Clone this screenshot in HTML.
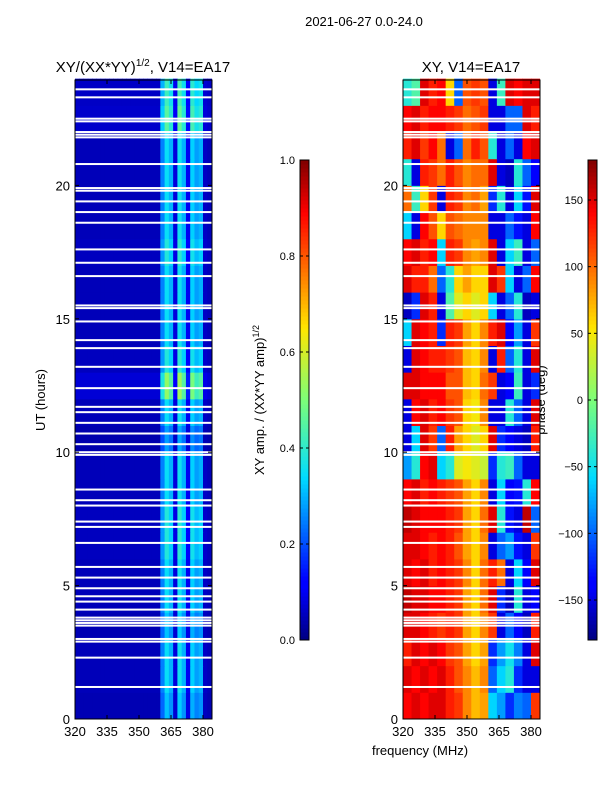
<!DOCTYPE html>
<html><head><meta charset="utf-8"><style>
body{margin:0;background:#fff;width:600px;height:800px;overflow:hidden}
svg text{font-family:"Liberation Sans",sans-serif;fill:#000}
</style></head><body>
<svg id="fig" width="600" height="800" xmlns="http://www.w3.org/2000/svg">
<text x="364" y="26" font-size="13" text-anchor="middle">2021-06-27 0.0-24.0</text>
<text x="143" y="72" font-size="15" text-anchor="middle">XY/(XX*YY)<tspan font-size="10" dy="-6">1/2</tspan><tspan dy="6">, V14=EA17</tspan></text>
<text x="471" y="72" font-size="15" text-anchor="middle">XY, V14=EA17</text>
<text transform="translate(45,400) rotate(-90)" font-size="13" text-anchor="middle">UT (hours)</text>
<text x="420" y="755" font-size="13" text-anchor="middle">frequency (MHz)</text>
<text transform="translate(264,400) rotate(-90)" font-size="13" text-anchor="middle">XY amp. / (XX*YY amp)<tspan font-size="9" dy="-5">1/2</tspan></text>
<text transform="translate(545,400) rotate(-90)" font-size="13" text-anchor="middle">phase (deg)</text>
<g id="left"></g>
<g id="right"></g>
<g id="cb"></g>
</svg>
<script>
const ampFreqs=[321,323,325,327,329,331,333,335,337,339,341,343,345,347,349,351,353,355,357,359,361,363,365,367,369,371,373,375,377,379,381,383];
const ampFreqVals=[0.05,0.05,0.05,0.05,0.05,0.05,0.05,0.05,0.05,0.05,0.05,0.05,0.05,0.05,0.05,0.05,0.05,0.05,0.05,0.05,0.25,0.35,0.3,0.08,0.36,0.3,0.1,0.33,0.28,0.3,0.06,0.05];
const ampHourGain=[0.9,1,1,0.9,1,1,1.1,1.1,1,1,0.8,1,1.5,1.1,1,1,1,1.1,1,1,1,1,1.3,1.2];
const phaseFreqs=[322,326,330,334,338,342,346,350,354,358,362,366,370,374,378,382];
const phaseRows=[
[140,150,140,150,150,130,120,90,70,80,-60,-80,-120,-90,-100,120],
[150,140,150,140,150,130,110,90,70,90,-100,-60,-40,-120,-150,-150],
[130,150,140,150,140,120,110,80,60,80,-120,-80,-50,-90,-150,150],
[150,150,140,130,120,130,120,80,60,90,120,-150,-100,-140,-160,130],
[160,150,150,140,140,130,120,80,60,100,150,-120,-160,-40,-150,-140],
[150,140,150,130,140,130,120,90,60,100,130,100,-150,-60,-140,150],
[150,150,140,130,140,130,110,80,60,90,-150,-100,-80,-130,-150,120],
[160,150,140,140,140,130,120,80,60,100,150,-40,-130,-150,160,-100],
[140,150,130,140,130,120,110,80,60,90,-150,-60,-140,-130,-40,140],
[-80,-40,140,150,-60,-40,40,50,40,30,-120,-40,-30,-100,-150,-150],
[-150,-60,150,120,-100,130,80,60,40,60,150,-120,-140,-150,-160,130],
[-150,140,150,130,140,120,110,60,50,90,-150,-150,-40,-100,-150,150],
[150,150,140,140,140,110,110,70,60,100,120,-150,-140,-30,-150,-120],
[-150,150,140,130,130,120,110,70,60,90,-150,130,-100,-40,-150,150],
[-60,150,140,130,-120,130,120,80,60,90,130,150,-140,-80,-150,120],
[-160,-120,150,130,-150,-20,40,60,40,60,-60,-150,-100,-40,-160,-150],
[150,130,130,100,-100,-40,60,80,60,60,150,120,-60,-150,-100,140],
[140,150,130,140,-60,130,120,90,80,90,150,-150,-60,-30,-150,-100],
[-60,-150,140,110,60,110,100,90,90,90,-150,-150,-100,-130,-150,140],
[100,-30,60,120,-150,130,120,90,100,80,-120,-40,-150,-60,-130,150],
[-40,-150,130,120,100,130,110,90,100,100,150,-150,-160,-40,-100,-140],
[130,150,120,140,100,-150,-100,100,130,110,-40,-150,-100,-150,140,150],
[140,150,130,140,140,130,120,100,110,120,-150,-150,-100,-100,150,130],
[-40,-20,150,130,140,60,-100,110,120,110,-150,-30,150,140,150,150]];
const gapHours=[23.6,23.3,22.5,22.4,22.0,21.9,21.8,20.8,19.9,19.8,19.4,19.0,18.6,17.6,17.1,16.6,15.5,15.4,14.9,14.2,13.9,13.2,12.4,11.7,11.5,11.1,10.7,10.3,10.0,9.9,8.6,8.2,8.0,7.4,7.2,6.6,5.7,5.3,4.9,4.6,4.4,4.1,3.8,3.7,3.6,3.5,3.0,2.9,2.3,1.2];
const xTicks=[320,335,350,365,380];
const yTicks=[0,5,10,15,20];
const ampTicks=[0,0.2,0.4,0.6,0.8,1.0];
const phaseTicks=[-150,-100,-50,0,50,100,150];

const NS="http://www.w3.org/2000/svg";
function mk(tag,attrs,parent){const e=document.createElementNS(NS,tag);for(const k in attrs)e.setAttribute(k,attrs[k]);parent.appendChild(e);return e;}
const jetStops=[[0,[0,0,127]],[0.11,[0,0,255]],[0.125,[0,0,255]],[0.34,[0,220,255]],[0.5,[124,255,121]],[0.65,[255,230,0]],[0.89,[255,0,0]],[1,[127,0,0]]];
function jet(t){t=Math.max(0,Math.min(1,t));for(let i=1;i<jetStops.length;i++){const[a,ca]=jetStops[i-1],[b,cb]=jetStops[i];if(t<=b){const f=(t-a)/(b-a||1);return`rgb(${ca.map((c,j)=>Math.round(c+(cb[j]-c)*f)).join(',')})`;}}return'rgb(127,0,0)';}
const X0L=75,X0R=403,W=137,YT=80,YB=719;
function xs(f){return (f-320)*32/15;}
function ys(h){return YB-h*(YB-YT)/23.95;}
function panel(g,x0,fn,freqs,df){
  for(let r=0;r<24;r++){for(let c=0;c<freqs.length;c++){
    const xa=Math.max(0,xs(freqs[c]-df/2)),xb=Math.min(W,xs(freqs[c]+df/2));
    const rect=mk('rect',{x:x0+xa,y:ys(r+1),width:xb-xa+0.5,height:ys(r)-ys(r+1)+0.5,fill:jet(fn(r,c))},g);
    
    
  }}
  gapHours.forEach(h=>{const l=mk('rect',{x:x0,y:ys(h)-1,width:W,height:2,fill:'#fff'},g);
    
    });
  mk('rect',{x:x0,y:YT,width:W,height:YB-YT,fill:'none',stroke:'#000','stroke-width':1},g);
  xTicks.forEach(t=>{const x=x0+xs(t);mk('line',{x1:x,x2:x,y1:YB,y2:YB-4,stroke:'#000'},g);mk('line',{x1:x,x2:x,y1:YT,y2:YT+4,stroke:'#000'},g);
    const tx=mk('text',{x:x,y:YB+17,'font-size':13,'text-anchor':'middle'},g);tx.textContent=t;
    
    });
  yTicks.forEach(t=>{const y=ys(t);mk('line',{x1:x0,x2:x0+4,y1:y,y2:y,stroke:'#000'},g);mk('line',{x1:x0+W,x2:x0+W-4,y1:y,y2:y,stroke:'#000'},g);
    const tx=mk('text',{x:x0-5,y:y+5,'font-size':13,'text-anchor':'end'},g);tx.textContent=t;
    
    });
}
panel(document.getElementById('left'),X0L,(r,c)=>ampFreqVals[c]*ampHourGain[r],ampFreqs,2);
panel(document.getElementById('right'),X0R,(r,c)=>(phaseRows[r][c]+180)/360,phaseFreqs,4);
function colorbar(x,lo,hi,ticks,fmt,name){
  const g=mk('g',{},document.getElementById('cb'));
  
  
  for(let i=0;i<120;i++){mk('rect',{x:x,y:640-(i+1)*4,width:9,height:4.5,fill:jet((i+0.5)/120)},g);}
  mk('rect',{x:x,y:160,width:9,height:480,fill:'none',stroke:'#000'},g);
  ticks.forEach(t=>{const y=640-(t-lo)/(hi-lo)*480;mk('line',{x1:x,x2:x+3,y1:y,y2:y,stroke:'#000'},g);mk('line',{x1:x+9,x2:x+6,y1:y,y2:y,stroke:'#000'},g);
    const tx=mk('text',{x:x-5,y:y+4,'font-size':11,'text-anchor':'end'},g);tx.textContent=fmt(t);
    
    });
}
colorbar(300,0,1,ampTicks,t=>t.toFixed(1),'amp-colorbar');
colorbar(588,-180,180,phaseTicks,t=>t<0?'\u2212'+(-t):String(t),'phase-colorbar');
</script>
</body></html>
